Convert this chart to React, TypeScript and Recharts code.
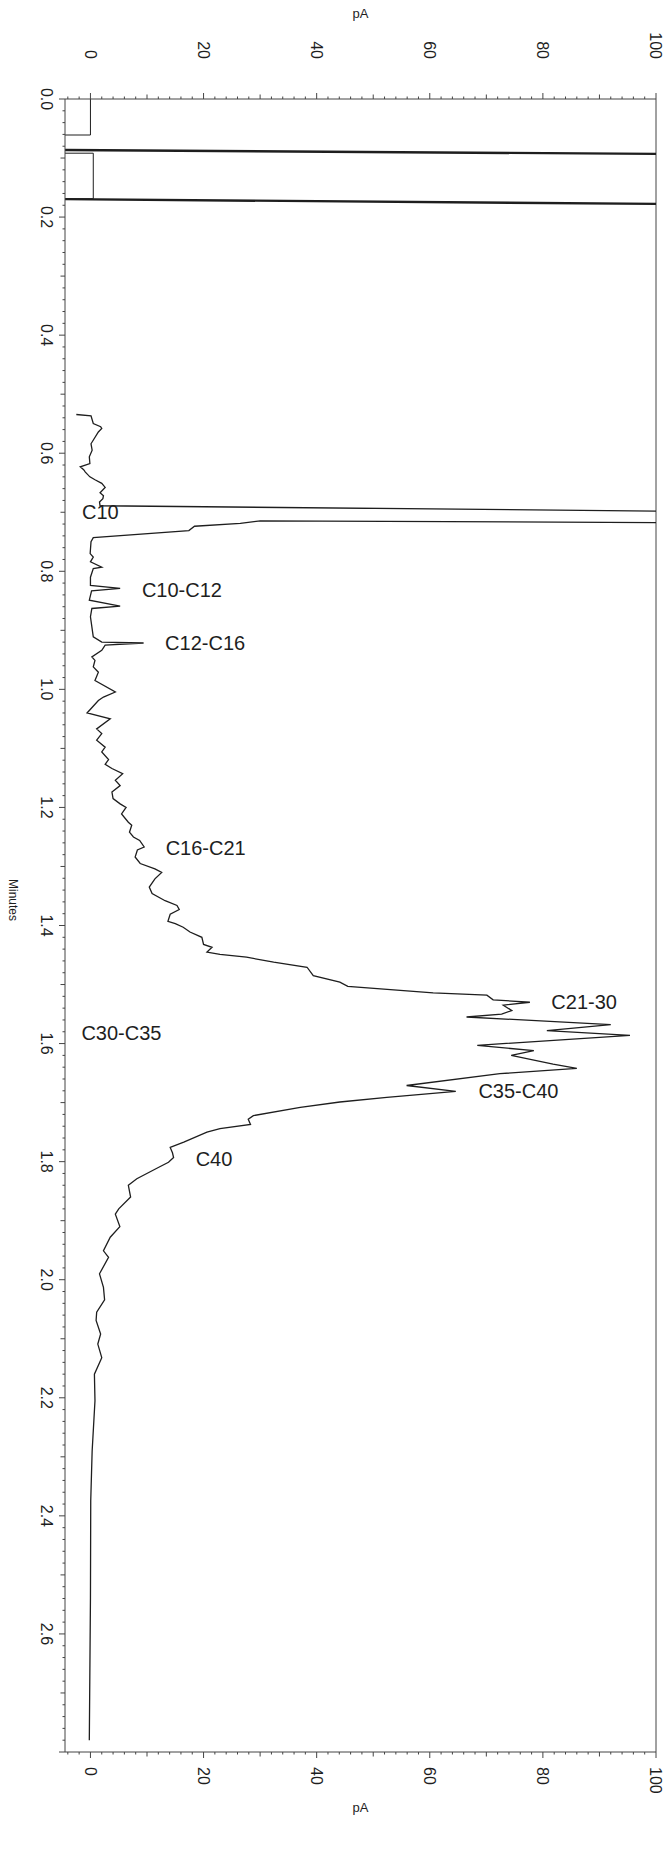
import React from "react";
import { LineChart, Line, XAxis, YAxis, ReferenceLine, ReferenceDot } from "recharts";

// FID trace: time in minutes, signal in pA.
// values of -10 / 110 are off scale and get clipped at the frame.

// pen at injection (thin strokes)
const injectionTime = [0, 0.061, 0.061, 0.0918, 0.0918, 0.169, 0.169];
const injectionPA = [0, 0, -10, -10, 0.5, 0.5, -10];

// the two full-scale overload sweeps (drawn heavy on the scan)
const overloadTime = [0.0861, 0.0936, 0.1785, 0.1692];
const overloadPA = [-10, 110, 110, -10];

// main chromatogram
const traceTime = [
  0.5344, 0.5368, 0.5497, 0.555, 0.558, 0.564, 0.584, 0.595, 0.606, 0.6175, 0.623, 0.628, 0.632,
  0.64, 0.645, 0.651, 0.658, 0.667, 0.672, 0.677, 0.6825, 0.689, 0.6989, 0.7179, 0.7147, 0.719,
  0.7237, 0.731, 0.743, 0.75, 0.77, 0.776, 0.784, 0.793, 0.7955, 0.81, 0.824, 0.829, 0.833, 0.849,
  0.859, 0.863, 0.877, 0.911, 0.92, 0.9215, 0.925, 0.934, 0.945, 0.951, 0.962, 0.971, 0.985,
  1.0045, 1.013, 1.019, 1.04, 1.05, 1.067, 1.075, 1.086, 1.098, 1.106, 1.119, 1.127, 1.134, 1.143,
  1.154, 1.163, 1.174, 1.185, 1.194, 1.2, 1.211, 1.225, 1.23, 1.242, 1.25, 1.256, 1.267, 1.272,
  1.284, 1.295, 1.304, 1.31, 1.321, 1.335, 1.346, 1.358, 1.366, 1.373, 1.381, 1.393, 1.397, 1.403,
  1.411, 1.42, 1.432, 1.437, 1.445, 1.449, 1.4537, 1.462, 1.4707, 1.485, 1.496, 1.503, 1.514,
  1.518, 1.526, 1.53, 1.535, 1.544, 1.55, 1.555, 1.568, 1.578, 1.586, 1.603, 1.612, 1.62, 1.635,
  1.642, 1.651, 1.671, 1.681, 1.691, 1.699, 1.708, 1.722, 1.728, 1.737, 1.744, 1.75, 1.767, 1.776,
  1.785, 1.793, 1.801, 1.81, 1.829, 1.84, 1.86, 1.88, 1.889, 1.91, 1.928, 1.951, 1.962, 1.99,
  2.013, 2.034, 2.055, 2.069, 2.092, 2.109, 2.132, 2.16, 2.205, 2.29, 2.375, 2.54, 2.78,
];
const tracePA = [
  -2.5, 0.1, 0.5, 1.8, 2.0, 1.4, 0.1, 0.3, -0.2, -0.1, -1.8, -1.2, -0.9,
  -0.1, 0.8, 2.0, 2.6, 1.7, 2.3, 2.2, 1.6, 1.7, 110, 110, 30, 26.5,
  18.4, 17.4, 0.5, 0.1, -0.05, 0.5, 0, 2.0, 0.5, 0, 0, 5.25, 0.2, -0.2,
  5.25, 0.25, 0, 0.5, 2.0, 9.4, 2.6, 2.0, 0.25, 0.8, 0.5, 1.4, 0.8,
  4.4, 2.3, 1.4, -0.6, 3.5, 1.1, 2.0, 1.1, 2.6, 2.0, 3.2, 2.6, 3.8, 5.7,
  4.4, 5.25, 3.8, 4.0, 5.25, 6.3, 5.5, 6.7, 7.3, 6.9, 7.6, 8.7, 9.5, 8.3,
  7.9, 8.8, 11.4, 12.6, 11.4, 10.4, 10.9, 13.2, 15.3, 15.7, 14.1, 13.7, 15.0, 16.4,
  17.6, 19.7, 20.0, 21.5, 20.6, 22.9, 27.6, 32.4, 38.3, 39.4, 44.1, 45.5, 60.6,
  70.1, 71.2, 77.7, 73.0, 74.5, 72.7, 66.5, 92.0, 80.7, 95.4, 68.4, 78.4, 74.4, 81.8,
  86.0, 72.4, 55.9, 64.6, 52.4, 44.1, 37.1, 28.8, 27.9, 28.3, 22.9, 20.6, 16.5, 14.1,
  14.5, 14.7, 13.8, 12.0, 8.2, 6.7, 7.1, 5.0, 4.4, 5.2, 3.5, 2.3, 3.2, 1.6,
  2.3, 2.5, 1.1, 1.0, 1.8, 1.3, 2.0, 0.7, 0.8, 0.3, 0.05, 0, -0.2,
];

const paTickLabels = [0, 20, 40, 60, 80, 100];
const minuteTickLabels = [0, 0.2, 0.4, 0.6, 0.8, 1.0, 1.2, 1.4, 1.6, 1.8, 2.0, 2.2, 2.4, 2.6];

const peakNames = ["C10", "C10-C12", "C12-C16", "C16-C21", "C21-30", "C30-C35", "C35-C40", "C40"];
const peakNameTime = [0.712, 0.844, 0.934, 1.281, 1.541, 1.594, 1.693, 1.807];
const peakNamePA = [-1.5, 9.1, 13.2, 13.3, 81.5, -1.6, 68.6, 18.6];

const zip = (ts: number[], vs: number[]) => ts.map((t, i) => ({ t, pA: vs[i] }));
const injectionData = zip(injectionTime, injectionPA);
const overloadData = zip(overloadTime, overloadPA);
const traceData = zip(traceTime, tracePA);

// minor ticks every 2 pA and every 0.02 min
const paTicks: number[] = [];
for (let v = -4; v <= 100; v += 2) paTicks.push(v);
const minuteTicks: number[] = [];
for (let i = 0; i <= 140; i++) minuteTicks.push(i / 50);

const INK = "#1e1e1e";
const AXIS = "#444";
const FONT = "'Liberation Sans', Arial, Helvetica, sans-serif";

function PATick(props: any) {
  const { x, y, payload, side } = props;
  const v = payload.value;
  const dir = side === "top" ? -1 : 1;
  const len = v % 20 === 0 ? 6 : v % 10 === 0 ? 4.5 : 2.5;
  const labeled = paTickLabels.includes(v);
  return (
    <g>
      <line x1={x} x2={x} y1={y} y2={y + dir * len} stroke={AXIS} strokeWidth={1} />
      {labeled && (
        <text
          transform={`translate(${x},${y + dir * (side === "top" ? 40 : 15)}) rotate(90)`}
          textAnchor={side === "top" ? "end" : "start"}
          dy="0.35em"
          fontSize={16}
          fontFamily={FONT}
          fill={INK}
        >
          {v}
        </text>
      )}
    </g>
  );
}

function MinuteTick(props: any) {
  const { x, y, payload } = props;
  const h = Math.round(payload.value * 100);
  const len = h % 20 === 0 ? 6 : h % 10 === 0 ? 4.5 : 2.5;
  const labeled = minuteTickLabels.some((m) => Math.round(m * 100) === h);
  return (
    <g>
      <line x1={x - len} x2={x} y1={y} y2={y} stroke={AXIS} strokeWidth={1} />
      {labeled && (
        <text
          transform={`translate(${x - 18},${y}) rotate(90)`}
          textAnchor="middle"
          dy="0.35em"
          fontSize={16}
          fontFamily={FONT}
          fill={INK}
        >
          {(h / 100).toFixed(1)}
        </text>
      )}
    </g>
  );
}

export default function App() {
  return (
    <div style={{ position: "absolute", left: 0, top: 0, width: 670, height: 1849, background: "#fff" }}>
      <LineChart
        layout="vertical"
        width={670}
        height={1849}
        margin={{ top: 0, right: 14, bottom: 0, left: 0 }}
      >
        <XAxis
          xAxisId="top"
          orientation="top"
          type="number"
          domain={[-4.5, 100]}
          allowDataOverflow
          ticks={paTicks}
          interval={0}
          height={99}
          tickSize={0}
          tickMargin={0}
          tickLine={false}
          axisLine={{ stroke: AXIS }}
          tick={(p: any) => <PATick {...p} side="top" />}
          label={{
            content: (p: any) => (
              <text x={p.viewBox.x + p.viewBox.width / 2} y={18} textAnchor="middle" fontSize={13} fontFamily={FONT} fill={INK}>
                pA
              </text>
            ),
          }}
        />
        <XAxis
          xAxisId="bottom"
          orientation="bottom"
          type="number"
          domain={[-4.5, 100]}
          allowDataOverflow
          ticks={paTicks}
          interval={0}
          height={97}
          tickSize={0}
          tickMargin={0}
          tickLine={false}
          axisLine={{ stroke: AXIS }}
          tick={(p: any) => <PATick {...p} side="bottom" />}
          label={{
            content: (p: any) => (
              <text x={p.viewBox.x + p.viewBox.width / 2} y={1812} textAnchor="middle" fontSize={13} fontFamily={FONT} fill={INK}>
                pA
              </text>
            ),
          }}
        />
        <YAxis
          type="number"
          dataKey="t"
          domain={[0, 2.8]}
          allowDataOverflow
          ticks={minuteTicks}
          interval={0}
          width={65}
          tickSize={0}
          tickMargin={0}
          tickLine={false}
          axisLine={{ stroke: AXIS }}
          tick={(p: any) => <MinuteTick {...p} />}
          label={{
            content: (p: any) => (
              <text
                transform={`translate(13,900) rotate(90)`}
                textAnchor="middle"
                dy="0.35em"
                fontSize={12}
                fontFamily={FONT}
                fill={INK}
              >
                Minutes
              </text>
            ),
          }}
        />
        <ReferenceLine xAxisId="bottom" x={100} stroke={AXIS} strokeWidth={1} />
        <Line
          xAxisId="bottom"
          data={injectionData}
          dataKey="pA"
          type="linear"
          stroke={INK}
          strokeWidth={1}
          dot={false}
          activeDot={false}
          isAnimationActive={false}
        />
        <Line
          xAxisId="bottom"
          data={overloadData}
          dataKey="pA"
          type="linear"
          stroke={INK}
          strokeWidth={2.4}
          dot={false}
          activeDot={false}
          isAnimationActive={false}
        />
        <Line
          xAxisId="bottom"
          data={traceData}
          dataKey="pA"
          type="linear"
          stroke={INK}
          strokeWidth={1.3}
          dot={false}
          activeDot={false}
          isAnimationActive={false}
        />
        {peakNames.map((name, i) => (
          <ReferenceDot
            key={name}
            xAxisId="bottom"
            x={peakNamePA[i]}
            y={peakNameTime[i]}
            r={0}
            stroke="none"
            fill="none"
            label={{
              content: (p: any) => (
                <text x={p.viewBox.x} y={p.viewBox.y} fontSize={20} fontFamily={FONT} fill={INK}>
                  {name}
                </text>
              ),
            }}
          />
        ))}
      </LineChart>
    </div>
  );
}
